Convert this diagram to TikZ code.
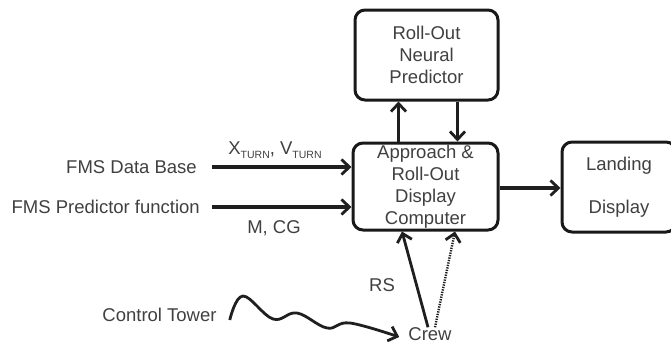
\documentclass[tikz,border=0pt]{standalone}
\usepackage{fontspec}
\setmainfont{Liberation Sans}
\usetikzlibrary{arrows.meta}
\newcommand{\turnsub}{\raisebox{-0.35ex}{\fontsize{10.5}{10}\selectfont TURN}}
\tikzset{
  block/.style={draw=black!90, rounded corners=10pt, line width=3pt, fill=white,
    align=center, inner sep=1pt},
  flow/.style={draw=black!88, line width=3.2pt,
    -{Straight Barb[length=8pt,width=15pt,line width=2.8pt]}},
  dotflow/.style={flow, line width=2.4pt, dash pattern=on 1.3pt off 1.2pt}
}
\begin{document}
\begin{tikzpicture}[x=1pt, y=-1pt,
    every node/.style={font=\fontsize{18.5}{22}\selectfont, text=black!75}]
  \useasboundingbox (0,0) rectangle (671,343);
  % boxes
  \node[block, minimum width=143pt, minimum height=90pt] (nnp) at (426.5,55)
    {Roll-Out\\Neural\\Predictor};
  \node[block, minimum width=145pt, minimum height=87pt] (adc) at (425.5,186.5)
    {Approach \&\\Roll-Out\\Display\\Computer};
  \node[block, minimum width=114pt, minimum height=90pt] (lnd) at (619,187)
    {Landing\\[21pt]Display};
  % inputs
  \node[anchor=east, inner sep=1pt] (fdb) at (198,167) {FMS Data Base};
  \node[anchor=east, inner sep=1pt] (fpf) at (201,207) {FMS Predictor function};
  \node (xv) at (275,150) {X\turnsub, V\turnsub};
  \node (mcg) at (274,228) {M, CG};
  \draw[flow] ([xshift=14pt]fdb.east) -- (fdb.east -| adc.west);
  \draw[flow] ([xshift=11pt]fpf.east) -- (fpf.east -| adc.west);
  % predictor loop
  \draw[flow] ([xshift=-27pt]adc.north) -- ([xshift=-27pt]adc.north |- nnp.south);
  \draw[flow] ([xshift=31pt]nnp.south) -- ([xshift=31pt]nnp.south |- adc.north);
  % output
  \draw[flow] (adc.east |- 0,188) -- (lnd.west |- 0,188);
  % crew and tower
  \node[inner sep=1pt] (crew) at (430,334) {Crew};
  \node[inner sep=1pt] (ctw) at (159.5,315) {Control Tower};
  \node (rs) at (382,285) {RS};
  \draw[flow, line width=2.8pt] ([xshift=-2pt,yshift=-1pt]crew.north) -- ([xshift=-23.5pt]adc.south);
  \draw[dotflow] ([xshift=5pt,yshift=-1pt]crew.north) -- ([xshift=29.5pt]adc.south);
  \draw[flow, line width=2.8pt] plot[smooth, tension=0.65] coordinates
    {([xshift=12pt,yshift=-5pt]ctw.east) (243,296) (273,319) (297,313)
     (327,328) (350,323) ([xshift=-8pt,yshift=-3pt]crew.west)};
\end{tikzpicture}
\end{document}
